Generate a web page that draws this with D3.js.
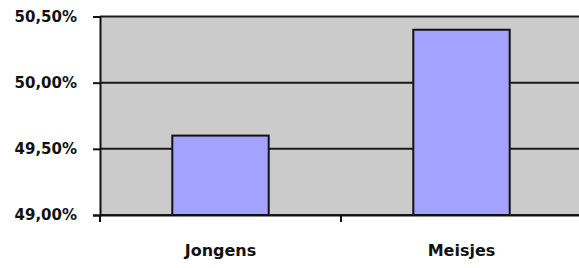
<!DOCTYPE html>
<html>
<head>
<meta charset="utf-8">
<script src="https://cdn.jsdelivr.net/npm/d3@7"></script>
<style>
  html, body { margin: 0; padding: 0; background: #fff; overflow: hidden; }
  svg { display: block; }
  text { font-family: "DejaVu Sans", sans-serif; font-weight: bold; font-size: 16px; fill: #111; }
</style>
</head>
<body>
<script>
// Data
const categories = ['Jongens', 'Meisjes'];
const values = [49.6, 50.4];
const yTicks = [49.0, 49.5, 50.0, 50.5];

const WIDTH = 579;
const HEIGHT = 268;
const margin = { top: 16.5, right: -3, bottom: 53, left: 100 };
const plotW = WIDTH - margin.left - margin.right;
const plotH = HEIGHT - margin.top - margin.bottom;

const fmt = (d) => d.toFixed(2).replace('.', ',') + '%';

const svg = d3
  .select('body')
  .append('svg')
  .attr('width', WIDTH)
  .attr('height', HEIGHT);

const g = svg
  .append('g')
  .attr('transform', `translate(${margin.left},${margin.top})`);

const x = d3.scaleBand().domain(categories).range([0, plotW]).paddingInner(0).paddingOuter(0);
const y = d3.scaleLinear().domain([49.0, 50.5]).range([plotH, 0]);

// plot background
g.append('rect')
  .attr('x', 0)
  .attr('y', 0)
  .attr('width', plotW)
  .attr('height', plotH)
  .attr('fill', '#cbcbcb');

// gridlines
g.append('g')
  .selectAll('line')
  .data(yTicks)
  .join('line')
  .attr('x1', 0)
  .attr('x2', plotW)
  .attr('y1', (d) => y(d))
  .attr('y2', (d) => y(d))
  .attr('stroke', '#1a1a1a')
  .attr('stroke-width', 2);

// bars
const barW = x.bandwidth() * 0.4;
g.append('g')
  .selectAll('rect')
  .data(values)
  .join('rect')
  .attr('x', (d, i) => x(categories[i]) + (x.bandwidth() - barW) / 2)
  .attr('y', (d) => y(d))
  .attr('width', barW)
  .attr('height', (d) => y(49.0) - y(d))
  .attr('fill', '#a3a3ff')
  .attr('stroke', '#111')
  .attr('stroke-width', 2);

// y axis
const yAxis = g.append('g').call(
  d3.axisLeft(y).tickValues(yTicks).tickFormat(fmt).tickSize(7).tickPadding(16)
);
yAxis.select('.domain').attr('stroke', '#111').attr('stroke-width', 2);
yAxis.selectAll('.tick line').attr('stroke', '#111').attr('stroke-width', 2);
yAxis.selectAll('text').attr('fill', '#111').style('font-size', '15px').style('font-family', '"DejaVu Sans", sans-serif');

// x axis
const xAxis = g
  .append('g')
  .attr('transform', `translate(0,${plotH})`)
  .call(d3.axisBottom(x).tickSize(0).tickPadding(30));
xAxis.select('.domain').attr('stroke', '#111').attr('stroke-width', 2);
xAxis.selectAll('text').attr('fill', '#111').style('font-size', '16px').style('font-family', '"DejaVu Sans", sans-serif');

// category boundary ticks
g.append('g')
  .selectAll('line')
  .data(d3.range(categories.length + 1))
  .join('line')
  .attr('x1', (i) => i * x.step())
  .attr('x2', (i) => i * x.step())
  .attr('y1', plotH)
  .attr('y2', plotH + 7)
  .attr('stroke', '#111')
  .attr('stroke-width', 2);
</script>
</body>
</html>
